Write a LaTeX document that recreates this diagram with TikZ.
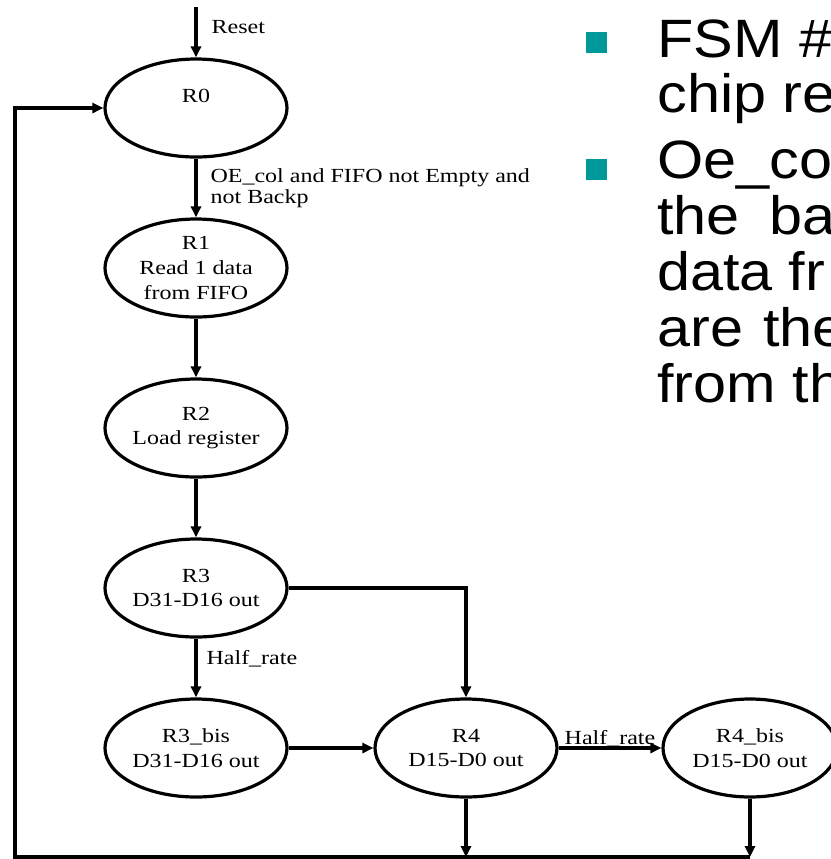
\documentclass[tikz,border=0pt]{standalone}
\usepackage{fontspec}
\setmainfont{Liberation Serif}
\newfontfamily\statefont{Liberation Serif}[FakeStretch=1.2]
\newfontfamily\slidefont{Liberation Sans}[FakeStretch=1.1]
\usetikzlibrary{arrows.meta, positioning, shapes.geometric}
\definecolor{bullet}{RGB}{0,153,153}
\tikzset{
  state/.style={ellipse, draw, line width=1.6pt, minimum width=91pt, minimum height=49pt,
                inner sep=0pt, align=center, font=\statefont\fontsize{10pt}{12.3pt}\selectfont},
  cond/.style={font=\statefont\fontsize{10pt}{10.5pt}\selectfont, align=left, inner sep=0pt},
  arr/.style={-{Triangle[length=5.5pt, width=5pt]}, line width=1.6pt},
  slide/.style={font=\slidefont\fontsize{27pt}{28pt}\selectfont, inner sep=0pt, anchor=base west},
  sq/.style={fill=bullet, minimum size=10.5pt, inner sep=0pt},
}

\begin{document}
\begin{tikzpicture}[x=0.5pt, y=-0.5pt, node distance=80pt and 135pt, on grid]
\clip (0,0) rectangle (831,859);

% states
\node[state] (r0) at (196,108) {R0\\~};
\node[state, below=of r0] (r1) {R1\\Read 1 data\\from FIFO};
\node[state, below=of r1] (r2) {R2\\Load register};
\node[state, below=of r2] (r3) {R3\\D31-D16 out};
\node[state, below=of r3] (r3b) {R3\_bis\\D31-D16 out};
\node[state, right=of r3b] (r4) {R4\\D15-D0 out};
\node[state, right=142pt of r4, minimum width=87pt] (r4b) {R4\_bis\\D15-D0 out};

\coordinate[above=25pt of r0.north] (rst);
\coordinate (bus) at (15,857);

% transitions
\draw[arr] (rst) -- node[cond, pos=0.4, anchor=west, xshift=7pt] {Reset} (r0);
\draw[arr] (r0) -- node[cond, anchor=west, xshift=6.5pt]
  {OE\_col and FIFO not Empty and\\not Backp} (r1);
\draw[arr] (r1) -- (r2);
\draw[arr] (r2) -- (r3);
\draw[arr] (r3) -- node[cond, pos=0.35, anchor=west, xshift=4.5pt] {Half\_rate} (r3b);
\draw[arr] (r3) -| (r4);
\draw[arr] (r3b) -- (r4);
\draw[arr] (r4) -- node[cond, anchor=base, yshift=2pt] {Half\_rate} (r4b);
\draw[arr] (r4) -- (r4 |- bus);
\draw[arr] (r4b) -- (r4b |- bus);
\draw[arr] (r4b |- bus) -- (bus) |- (r0);

% slide text
\node[sq] (b1) at (596,42) {};
\node[sq] (b2) at (596,169) {};
\foreach \yy/\txt [count=\i] in {57/FSM \#, 112/chip re, 178/Oe\_co,
    234/the\hspace{15pt}ba, 290/data\hspace{8pt}fr, 346/are\hspace{10pt}the, 402/from th}
  \node[slide] (ln\i) at (657,\yy) {\txt};
\end{tikzpicture}
\end{document}
